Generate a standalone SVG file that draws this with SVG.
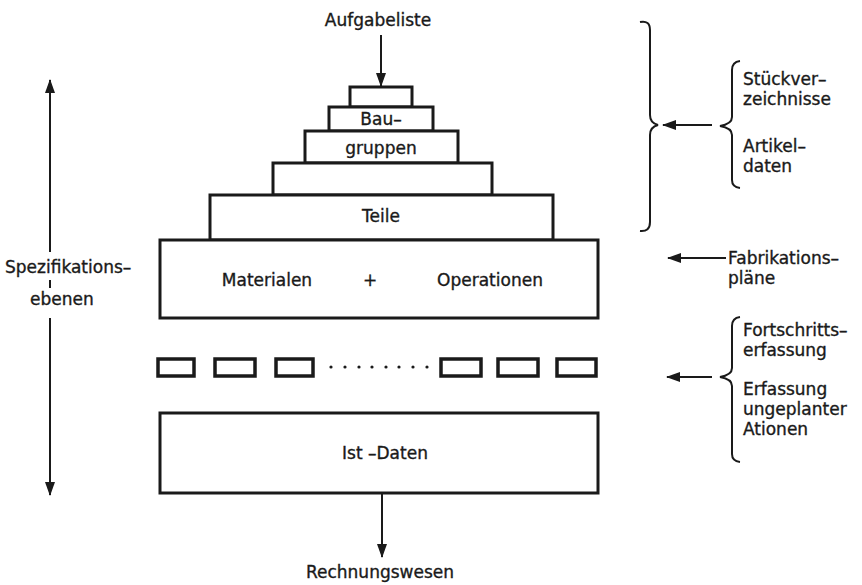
<svg xmlns="http://www.w3.org/2000/svg" width="862" height="585" viewBox="0 0 862 585">
<style>
.box{fill:#fff;stroke:#1a1a1a;stroke-width:3}
.sm{fill:#fff;stroke:#1a1a1a;stroke-width:3.5}
.ln{fill:none;stroke:#1a1a1a;stroke-width:2}
.br{fill:none;stroke:#1a1a1a;stroke-width:2}
text{font-family:"DejaVu Sans","Liberation Sans",sans-serif;font-size:17px;fill:#1a1a1a;stroke:#1a1a1a;stroke-width:0.35}
.c{text-anchor:middle}
</style>
<defs>
<marker id="ah" viewBox="0 0 14 10" refX="13" refY="5" markerWidth="14" markerHeight="10" markerUnits="userSpaceOnUse" orient="auto-start-reverse">
<path d="M0,0 L14,5 L0,10 Z" fill="#1a1a1a"/>
</marker>
</defs>
<rect width="862" height="585" fill="#fff"/>
<g id="pyramid">
<rect class="box" x="350" y="87" width="62" height="20"/>
<rect class="box" x="329" y="107" width="104" height="24"/>
<rect class="box" x="305" y="131" width="153" height="32"/>
<rect class="box" x="273" y="163" width="219" height="32"/>
<rect class="box" x="210" y="195" width="343" height="45"/>
<text class="c" x="381" y="125">Bau–</text>
<text class="c" x="381" y="154">gruppen</text>
<text class="c" x="381" y="222">Teile</text>
</g>
<g id="materialen">
<rect class="box" x="160" y="240" width="438" height="78"/>
<text class="c" x="267" y="286">Materialen</text>
<text class="c" x="370" y="286">+</text>
<text class="c" x="490" y="286">Operationen</text>
</g>
<g id="progress">
<rect class="sm" x="158" y="359" width="36" height="17"/>
<rect class="sm" x="215" y="359" width="40" height="17"/>
<rect class="sm" x="276" y="359" width="37" height="17"/>
<g fill="#1a1a1a">
<circle cx="331" cy="367" r="1.6"/><circle cx="345" cy="367" r="1.6"/><circle cx="359" cy="367" r="1.6"/><circle cx="372" cy="367" r="1.6"/><circle cx="386" cy="367" r="1.6"/><circle cx="399" cy="367" r="1.6"/><circle cx="413" cy="367" r="1.6"/><circle cx="427" cy="367" r="1.6"/>
</g>
<rect class="sm" x="441" y="359" width="40" height="17"/>
<rect class="sm" x="498" y="359" width="40" height="17"/>
<rect class="sm" x="557" y="359" width="39" height="17"/>
</g>
<g id="istdaten">
<rect class="box" x="160" y="413" width="438" height="80"/>
<text class="c" x="385" y="459">Ist –Daten</text>
</g>
<g id="labels">
<text class="c" x="378" y="26">Aufgabeliste</text>
<text class="c" x="380" y="578">Rechnungswesen</text>
<text x="5" y="273">Spezifikations–</text>
<text x="30" y="305">ebenen</text>
<text x="743" y="85">Stückver–</text>
<text x="743" y="105">zeichnisse</text>
<text x="743" y="152">Artikel–</text>
<text x="743" y="172">daten</text>
<text x="728" y="264">Fabrikations–</text>
<text x="728" y="284">pläne</text>
<text x="743" y="336">Fortschritts–</text>
<text x="743" y="356">erfassung</text>
<text x="743" y="395">Erfassung</text>
<text x="743" y="415">ungeplanter</text>
<text x="743" y="435"> Ationen</text>
</g>
<g id="connectors">
<line class="ln" x1="381" y1="35" x2="381" y2="86" marker-end="url(#ah)"/>
<line class="ln" x1="382" y1="494" x2="382" y2="557" marker-end="url(#ah)"/>
<line class="ln" x1="50" y1="80" x2="50" y2="252" marker-start="url(#ah)"/>
<line class="ln" x1="50" y1="280" x2="50" y2="288"/>
<line class="ln" x1="50" y1="318" x2="50" y2="495" marker-end="url(#ah)"/>
<line class="ln" x1="712" y1="125" x2="663" y2="125" marker-end="url(#ah)"/>
<line class="ln" x1="726" y1="258" x2="668" y2="258" marker-end="url(#ah)"/>
<line class="ln" x1="712" y1="377" x2="667" y2="377" marker-end="url(#ah)"/>
<path class="br" d="M640,22 Q650,20 650,30 L650,115 Q650,123 658,125 Q650,127 650,135 L650,222 Q650,232 640,231"/>
<path class="br" d="M740,61 Q732,62 732,70 L732,117 Q732,124 720,126 Q732,128 732,135 L732,180 Q732,187 740,188"/>
<path class="br" d="M740,317 Q732,318 732,326 L732,368 Q732,375 720,377 Q732,379 732,386 L732,454 Q732,461 740,462"/>
</g>
</svg>
